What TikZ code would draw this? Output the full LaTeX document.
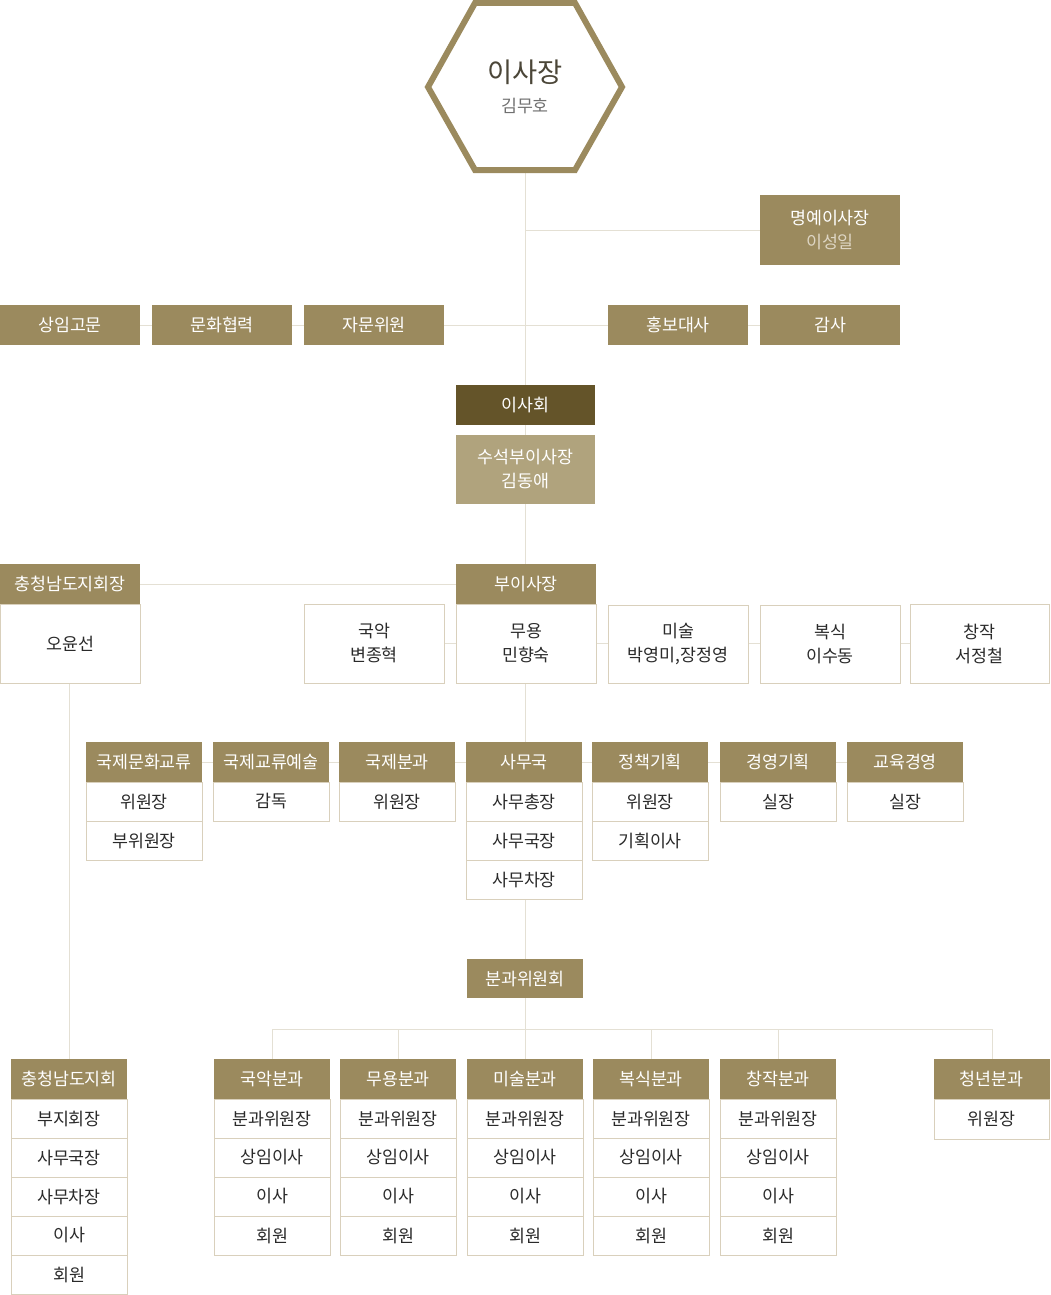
\documentclass[tikz,border=0pt]{standalone}
\usepackage{fontspec}
\setmainfont{Noto Sans CJK KR}
\usetikzlibrary{backgrounds}
\definecolor{gold}{HTML}{9B8A5E}
\definecolor{darkgold}{HTML}{645429}
\definecolor{lightgold}{HTML}{B0A37D}
\definecolor{cellb}{HTML}{D9D0BC}
\definecolor{linec}{HTML}{E4E0D4}
\definecolor{txt}{HTML}{2A2A2A}
\definecolor{subtxt}{HTML}{DED6C4}
\definecolor{hextxt}{HTML}{4B4638}
\definecolor{hexsub}{HTML}{707070}
\newcommand\bx[7]{\node[#6, minimum width={(#4-#2)*0.75pt}, minimum height={(#5-#3)*0.75pt}] (#1) at ({(#2+#4)/2},{(#3+#5)/2}) {#7};}
\tikzset{
  base/.style={inner sep=0pt, outer sep=0pt, font=\fontsize{13}{18}\selectfont, align=center},
  hd/.style={base, fill=gold, text=white},
  dk/.style={base, fill=darkgold, text=white},
  lt/.style={base, fill=lightgold, text=white},
  cl/.style={base, fill=white, draw=cellb, line width=0.75pt, text=txt},
  conn/.style={draw=linec, line width=0.75pt}
}
\begin{document}
\begin{tikzpicture}[x=0.75pt,y=-0.75pt]
\useasboundingbox (0,0) rectangle (1050,1295);
% hexagon
\draw[gold, line width=4.5pt, line join=miter] (475,3) -- (575,3) -- (622,87) -- (575,170) -- (475,170) -- (428,87) -- cycle;
\node[font=\fontsize{20.5}{24}\selectfont, text=hextxt] (hext) at (525,72) {이사장};
\node[font=\fontsize{13}{15}\selectfont, text=hexsub] (hexn) at (525,106) {김무호};
\coordinate (hexb) at (525,172);
% top
\bx{myung}{760}{195}{900}{265}{hd}{명예이사장\\\textcolor{subtxt}{이성일}}
\bx{sangim}{0}{305}{140}{345}{hd}{상임고문}
\bx{munhwa}{152}{305}{292}{345}{hd}{문화협력}
\bx{jamun}{304}{305}{444}{345}{hd}{자문위원}
\bx{hongbo}{608}{305}{748}{345}{hd}{홍보대사}
\bx{gamsa}{760}{305}{900}{345}{hd}{감사}
\bx{isahoe}{456}{385}{595}{425}{dk}{이사회}
\bx{suseok}{456}{435}{595}{504}{lt}{수석부이사장\\김동애}
% vice
\bx{cnh}{0}{564}{140}{604}{hd}{충청남도지회장}
\bx{cnb}{0.5}{604}{140}{683}{cl}{오윤선}
\bx{bu}{456}{564}{596}{604}{hd}{부이사장}
\bx{gukak}{304}{604}{444}{683}{cl}{국악\\변종혁}
\bx{muyong}{456}{604}{596}{683}{cl}{무용\\민향숙}
\bx{misul}{608}{605}{748}{683}{cl}{미술\\박영미,장정영}
\bx{boksik}{760}{605}{900}{683}{cl}{복식\\이수동}
\bx{changjak}{910}{604}{1049.5}{683}{cl}{창작\\서정철}
% middle row
\bx{ga}{86}{742}{202}{782}{hd}{국제문화교류}
\bx{ga1}{86}{782}{202}{821}{cl}{위원장}
\bx{ga2}{86}{821}{202}{860}{cl}{부위원장}
\bx{gb}{213}{742}{329}{782}{hd}{국제교류예술}
\bx{gb1}{213}{782}{329}{821}{cl}{감독}
\bx{gc}{339}{742}{455}{782}{hd}{국제분과}
\bx{gc1}{339}{782}{455}{821}{cl}{위원장}
\bx{gd}{466}{742}{582}{782}{hd}{사무국}
\bx{gd1}{466}{782}{582}{821}{cl}{사무총장}
\bx{gd2}{466}{821}{582}{860}{cl}{사무국장}
\bx{gd3}{466}{860}{582}{899}{cl}{사무차장}
\bx{ge}{592}{742}{708}{782}{hd}{정책기획}
\bx{ge1}{592}{782}{708}{821}{cl}{위원장}
\bx{ge2}{592}{821}{708}{860}{cl}{기획이사}
\bx{gf}{720}{742}{836}{782}{hd}{경영기획}
\bx{gf1}{720}{782}{836}{821}{cl}{실장}
\bx{gg}{847}{742}{963}{782}{hd}{교육경영}
\bx{gg1}{847}{782}{963}{821}{cl}{실장}
% committee
\bx{bwh}{467}{959}{583}{998}{hd}{분과위원회}
\coordinate (jl) at (272,1029);
\coordinate (jr) at (992,1029);
% bottom
\bx{cj}{11}{1059}{127}{1099}{hd}{충청남도지회}
\bx{cj1}{11}{1099}{127}{1138}{cl}{부지회장}
\bx{cj2}{11}{1138}{127}{1177}{cl}{사무국장}
\bx{cj3}{11}{1177}{127}{1216}{cl}{사무차장}
\bx{cj4}{11}{1216}{127}{1255}{cl}{이사}
\bx{cj5}{11}{1255}{127}{1294}{cl}{회원}
\foreach \n/\a/\b/\t in {ba/214/330/국악분과, bb/340/456/무용분과, bc/467/583/미술분과, bd/593/709/복식분과, be/720/836/창작분과}{
  \bx{\n}{\a}{1059}{\b}{1099}{hd}{\t}
  \bx{\n1}{\a}{1099}{\b}{1138}{cl}{분과위원장}
  \bx{\n2}{\a}{1138}{\b}{1177}{cl}{상임이사}
  \bx{\n3}{\a}{1177}{\b}{1216}{cl}{이사}
  \bx{\n4}{\a}{1216}{\b}{1255}{cl}{회원}
}
\bx{bf}{934}{1059}{1049.5}{1099}{hd}{청년분과}
\bx{bf1}{934}{1099}{1049.5}{1139}{cl}{위원장}
% connectors
\begin{pgfonlayer}{background}
\draw[conn] (hexb) -- (bc.north);
\draw[conn] (hexb |- myung.west) -- (myung.west);
\draw[conn] (sangim.east) -- (gamsa.west);
\draw[conn] (cnh.east) -- (bu.west);
\draw[conn] (gukak.east) -- (changjak.west);
\draw[conn] (cj.north |- cnb.south) -- (cj.north);
\draw[conn] (ga.east) -- (gg.west);
\draw[conn] (jl) -- (jr);
\draw[conn] (jl) -- (ba.north);
\draw[conn] (bb.north |- jl) -- (bb.north);
\draw[conn] (bd.north |- jl) -- (bd.north);
\draw[conn] (be.north |- jl) -- (be.north);
\draw[conn] (jr) -- (jr |- bf.north);
\end{pgfonlayer}
\end{tikzpicture}
\end{document}
